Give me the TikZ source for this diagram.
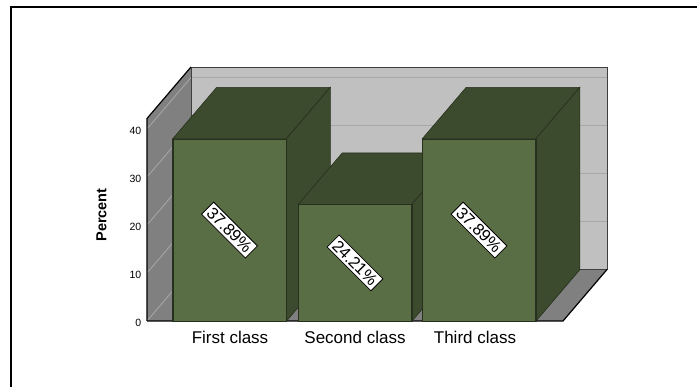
\documentclass[tikz,border=0pt]{standalone}
\usepackage{fontspec}
\setmainfont{Liberation Sans}
\definecolor{barfront}{HTML}{5A6E46}
\definecolor{bardark}{HTML}{3C4A2E}
\definecolor{barline}{HTML}{26301C}
\definecolor{backwall}{HTML}{C0C0C0}
\definecolor{sidewall}{HTML}{808080}
\definecolor{gridc}{HTML}{A8A8A8}
\begin{document}
\begin{tikzpicture}[x=1pt,y=-1pt,
  barfaceA/.style={rectangle,fill=barfront,draw=barline,line width=0.6pt,inner sep=0pt,minimum width=113pt},
  barshade/.style={fill=bardark,draw=barline,line width=0.6pt},
  pctlabel/.style={fill=white,draw=black,line width=0.8pt,rotate=-45,inner xsep=3pt,inner ysep=0pt,minimum height=17pt,font=\fontsize{16.5}{16.5}\selectfont},
  ticklab/.style={anchor=east,inner sep=0pt,font=\fontsize{10.5}{10.5}\selectfont},
  catlab/.style={inner sep=0pt,font=\fontsize{17}{17}\selectfont},
  gridline/.style={gridc,line width=0.8pt}]
\useasboundingbox (0,0) rectangle (697,387);
% outer frame
\draw[line width=1.3pt] (11,387) -- (11,7) -- (697,7);
% walls
\coordinate (fl) at (147,321);
\coordinate (fr) at (563,321);
\coordinate (br) at (607,269.5);
\coordinate (bl) at (191,269.5);
\coordinate (blt) at (191,67);
\coordinate (brt) at (607,67);
\coordinate (flt) at (147,118.5);
\fill[backwall] (bl) rectangle (brt);
\fill[sidewall] (fl) -- (flt) -- (blt) -- (bl) -- cycle;
\fill[sidewall] (fl) -- (fr) -- (br) -- (bl) -- cycle;
\foreach \v in {0,10,20,30,40}{
  \draw[gridline] (191,{321-4.8*\v-51.5}) -- (607,{321-4.8*\v-51.5});
  \draw[gridline] (147,{321-4.8*\v}) -- (191,{321-4.8*\v-51.5});
}
\draw[black!75,line width=0.8pt] (bl) -- (br) -- (brt) -- (blt) -- cycle;
\draw[black,line width=1.2pt] (fl) -- (flt) -- (blt);
\draw[black,line width=1.2pt] (fl) -- (fr) -- (br);
% ticks
\foreach \v in {0,10,20,30,40}{
  \node[ticklab] (t\v) at (141.5,{321-4.8*\v+1.5}) {\v};
}
\node[rotate=90,inner sep=0pt,font=\fontsize{14.5}{14.5}\selectfont\bfseries] (ylab) at (101.5,215) {Percent};
% bars
\foreach \i/\xc/\v/\t in {1/229.5/37.89/37.89\%,2/355/24.21/24.21\%,3/479/37.89/37.89\%}{
  \node[barfaceA,minimum height={4.8*\v*1pt}] (bar\i) at (\xc,{321-2.4*\v}) {};
  \draw[barshade] (bar\i.north west) -- ++(44,-51.5) -- ++(113,0) -- ([xshift=44pt,yshift=51.5pt]bar\i.north east) -- (bar\i.north east) -- cycle;
  \draw[barshade] (bar\i.north east) -- ([xshift=44pt,yshift=51.5pt]bar\i.north east) -- ([xshift=44pt,yshift=51.5pt]bar\i.south east) -- (bar\i.south east) -- cycle;
  \draw[barline,line width=0.6pt] (bar\i.north west) rectangle (bar\i.south east);
  \node[pctlabel] (lab\i) at (bar\i.center) {\t};
}
% categories
\node[catlab] (c1) at (230,337.5) {First class};
\node[catlab] (c2) at (355,337.5) {Second class};
\node[catlab] (c3) at (475,337.5) {Third class};
\end{tikzpicture}
\end{document}
